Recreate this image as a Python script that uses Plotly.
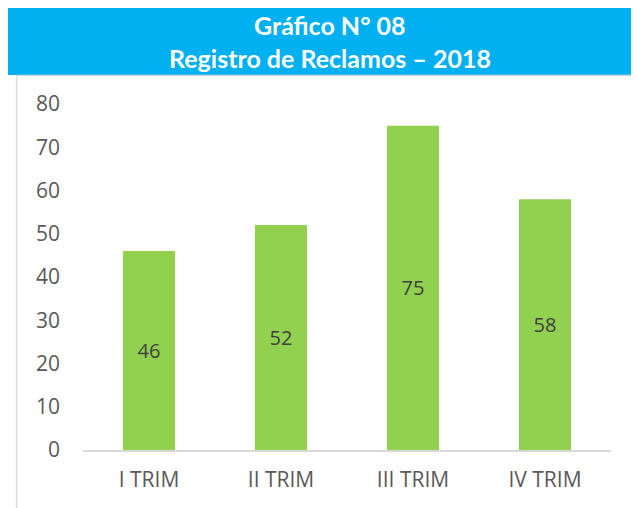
import plotly.graph_objects as go

categories = ["I TRIM", "II TRIM", "III TRIM", "IV TRIM"]
values = [46, 52, 75, 58]
y_ticks = [0, 10, 20, 30, 40, 50, 60, 70, 80]
title_line1 = "Gráfico N° 08"
title_line2 = "Registro de Reclamos – 2018"

# page body has an 8px margin; figure pixels = screen pixels - 8
OFF = 8
W, H = 639 - OFF, 508 - OFF
L, R, T, B = 83 - OFF, 28, 104 - OFF, 58
pw, ph = W - L - R, H - T - B


def px(x):
    return (x - OFF - L) / pw


def py(y):
    return (H - B - (y - OFF)) / ph


fig = go.Figure(go.Bar(
    x=categories, y=values,
    marker=dict(color="#92D050", line=dict(width=0)),
    text=values, textposition="inside", insidetextanchor="middle",
    textfont=dict(family="Open Sans", size=20, color="#404040"),
    hoverinfo="skip",
))

shapes = [
    dict(type="rect", xref="paper", yref="paper", x0=px(0), x1=px(660), y0=py(75), y1=py(0),
         fillcolor="#00B0F0", line=dict(width=0), layer="below"),
    dict(type="line", xref="paper", yref="paper", x0=px(16), x1=px(660), y0=py(75.5), y1=py(75.5),
         line=dict(color="#D9D9D9", width=1.5)),
    dict(type="line", xref="paper", yref="paper", x0=px(16.5), x1=px(16.5), y0=py(75), y1=py(530),
         line=dict(color="#D9D9D9", width=1.5)),
]

annotations = [
    dict(text=f"<b>{title_line1}</b>", xref="paper", yref="paper", x=px(330), y=py(8),
         showarrow=False, xanchor="center", yanchor="top",
         font=dict(family="Lato", size=25, color="white")),
    dict(text=f"<b>{title_line2}</b>", xref="paper", yref="paper", x=px(330), y=py(58),
         showarrow=False, xanchor="center", yanchor="middle",
         font=dict(family="Lato", size=25, color="white")),
]

fig.update_layout(
    width=W, height=H,
    margin=dict(l=L, r=R, t=T, b=B, pad=0, autoexpand=False),
    paper_bgcolor="white", plot_bgcolor="white",
    bargap=0.606,
    showlegend=False,
    shapes=shapes,
    annotations=annotations,
    xaxis=dict(showgrid=False, showline=True, linecolor="#D9D9D9", linewidth=2,
               ticks="", tickfont=dict(family="Open Sans", size=21, color="#595959"),
               ticklabelstandoff=10, zeroline=False, automargin=False),
    yaxis=dict(range=[0, 80], tickvals=y_ticks, showgrid=False, showline=False, zeroline=False,
               ticks="", tickfont=dict(family="Open Sans", size=21, color="#595959"),
               ticklabelstandoff=22, automargin=False),
)

fig.write_html("out.html")
